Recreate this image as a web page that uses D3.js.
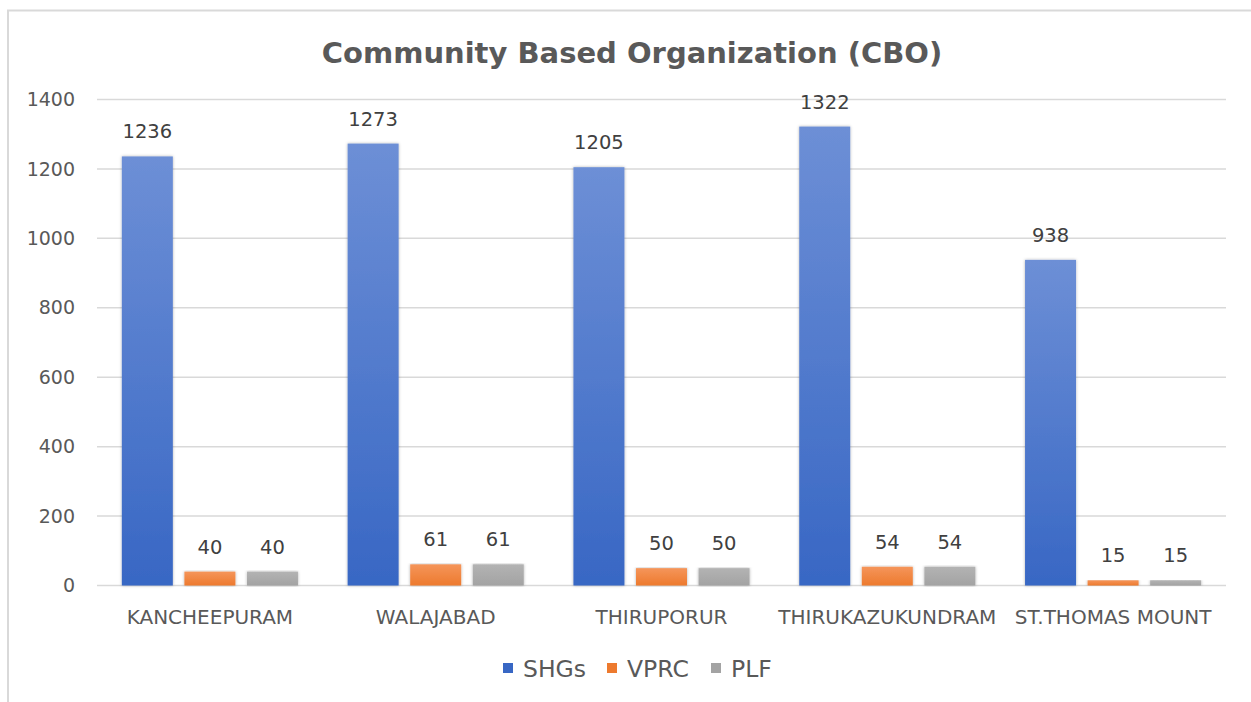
<!DOCTYPE html>
<html lang="en">
<head>
<meta charset="UTF-8">
<title>Community Based Organization (CBO)</title>
<script src="https://d3js.org/d3.v7.min.js"></script>
<style>
    body { margin: 0; background: #fff; }
    svg { display: block; font-family: "DejaVu Sans", Verdana, sans-serif; }
</style>
</head>
<body>
<div id="chart"></div>
<script>
// data
var blocks = ["KANCHEEPURAM", "WALAJABAD", "THIRUPORUR", "THIRUKAZUKUNDRAM", "ST.THOMAS MOUNT"];
var seriesNames = ["SHGs", "VPRC", "PLF"];
var shgs = [1236, 1273, 1205, 1322, 938];
var vprc = [40, 61, 50, 54, 15];
var plf = [40, 61, 50, 54, 15];
var yTicks = [0, 200, 400, 600, 800, 1000, 1200, 1400];

var W = 1251, H = 702;
var plotLeft = 97, plotRight = 1226, plotTop = 99.5, plotBottom = 585.5;

var svg = d3.select("#chart").append("svg")
    .attr("width", W).attr("height", H);

// gradients like the excel fill
var defs = svg.append("defs");
var fills = [["#6d8fd6", "#3867c4"], ["#f5955a", "#ed7a2e"], ["#b3b3b3", "#a3a3a3"]];
fills.forEach(function(c, i) {
    var g = defs.append("linearGradient").attr("id", "g" + i)
        .attr("x1", 0).attr("y1", 0).attr("x2", 0).attr("y2", 1);
    g.append("stop").attr("offset", "0%").attr("stop-color", c[0]);
    g.append("stop").attr("offset", "100%").attr("stop-color", c[1]);
});
var shadow = defs.append("filter").attr("id", "sh")
    .attr("x", "-20%").attr("y", "-5%").attr("width", "140%").attr("height", "110%");
shadow.append("feDropShadow").attr("dx", 0).attr("dy", 0).attr("stdDeviation", 1.5)
    .attr("flood-color", "#000").attr("flood-opacity", 0.3);

// chart border (top and left visible)
svg.append("path")
    .attr("d", "M8," + H + " V10.5 H" + W)
    .attr("fill", "none").attr("stroke", "#d9d9d9").attr("stroke-width", 2);

var x0 = d3.scaleBand().domain(blocks).range([plotLeft, plotRight]).paddingInner(0.22).paddingOuter(0.11);
var x1 = d3.scaleBand().domain(seriesNames).range([0, x0.bandwidth()]).paddingInner(0.185);
var y = d3.scaleLinear().domain([0, 1400]).range([plotBottom, plotTop]);

// gridlines
svg.append("g").selectAll("line").data(yTicks).enter().append("line")
    .attr("x1", plotLeft).attr("x2", plotRight)
    .attr("y1", function(d) { return y(d); }).attr("y2", function(d) { return y(d); })
    .attr("stroke", "#d9d9d9").attr("stroke-width", 1.5);

// y axis labels
var yAxis = svg.append("g").attr("transform", "translate(" + plotLeft + ",0)")
    .call(d3.axisLeft(y).tickValues(yTicks).tickFormat(d3.format("d")).tickSize(0).tickPadding(22));
yAxis.select(".domain").remove();
yAxis.selectAll("text").attr("font-size", 19).attr("fill", "#595959")
    .attr("font-family", "DejaVu Sans");

// x axis labels
var xAxis = svg.append("g").attr("transform", "translate(0," + plotBottom + ")")
    .call(d3.axisBottom(x0).tickSize(0).tickPadding(24));
xAxis.select(".domain").remove();
xAxis.selectAll("text").attr("font-size", 20).attr("fill", "#595959")
    .attr("font-family", "DejaVu Sans");

var table = blocks.map(function(b, i) {
    return { block: b, vals: [shgs[i], vprc[i], plf[i]] };
});

var groups = svg.append("g").selectAll("g").data(table).enter().append("g")
    .attr("transform", function(d) { return "translate(" + x0(d.block) + ",0)"; });

groups.selectAll("rect")
    .data(function(d) { return d.vals.map(function(v, k) { return { k: k, v: v }; }); })
    .enter().append("rect")
    .attr("x", function(d) { return x1(seriesNames[d.k]); })
    .attr("y", function(d) { return y(d.v); })
    .attr("width", x1.bandwidth())
    .attr("height", function(d) { return y(0) - y(d.v); })
    .attr("fill", function(d) { return "url(#g" + d.k + ")"; })
    .attr("filter", "url(#sh)");

groups.selectAll("text")
    .data(function(d) { return d.vals.map(function(v, k) { return { k: k, v: v }; }); })
    .enter().append("text")
    .attr("x", function(d) { return x1(seriesNames[d.k]) + x1.bandwidth() / 2; })
    .attr("y", function(d) { return y(d.v) - 18; })
    .attr("text-anchor", "middle")
    .attr("font-size", 19.5).attr("fill", "#404040")
    .text(function(d) { return d.v; });

// title
svg.append("text").attr("x", 632).attr("y", 63).attr("text-anchor", "middle")
    .attr("font-size", 29).attr("font-weight", "bold").attr("fill", "#595959")
    .text("Community Based Organization (CBO)");

// legend
var legendX = [503, 607, 711];
var legend = svg.append("g").selectAll("g").data(seriesNames).enter().append("g")
    .attr("transform", function(d, i) { return "translate(" + legendX[i] + ",663)"; });
legend.append("rect").attr("width", 10).attr("height", 10)
    .attr("fill", function(d, i) { return fills[i][1]; });
legend.append("text").attr("x", 20).attr("y", 13.5)
    .attr("font-size", 23.5).attr("fill", "#595959")
    .text(function(d) { return d; });
</script>
</body>
</html>
